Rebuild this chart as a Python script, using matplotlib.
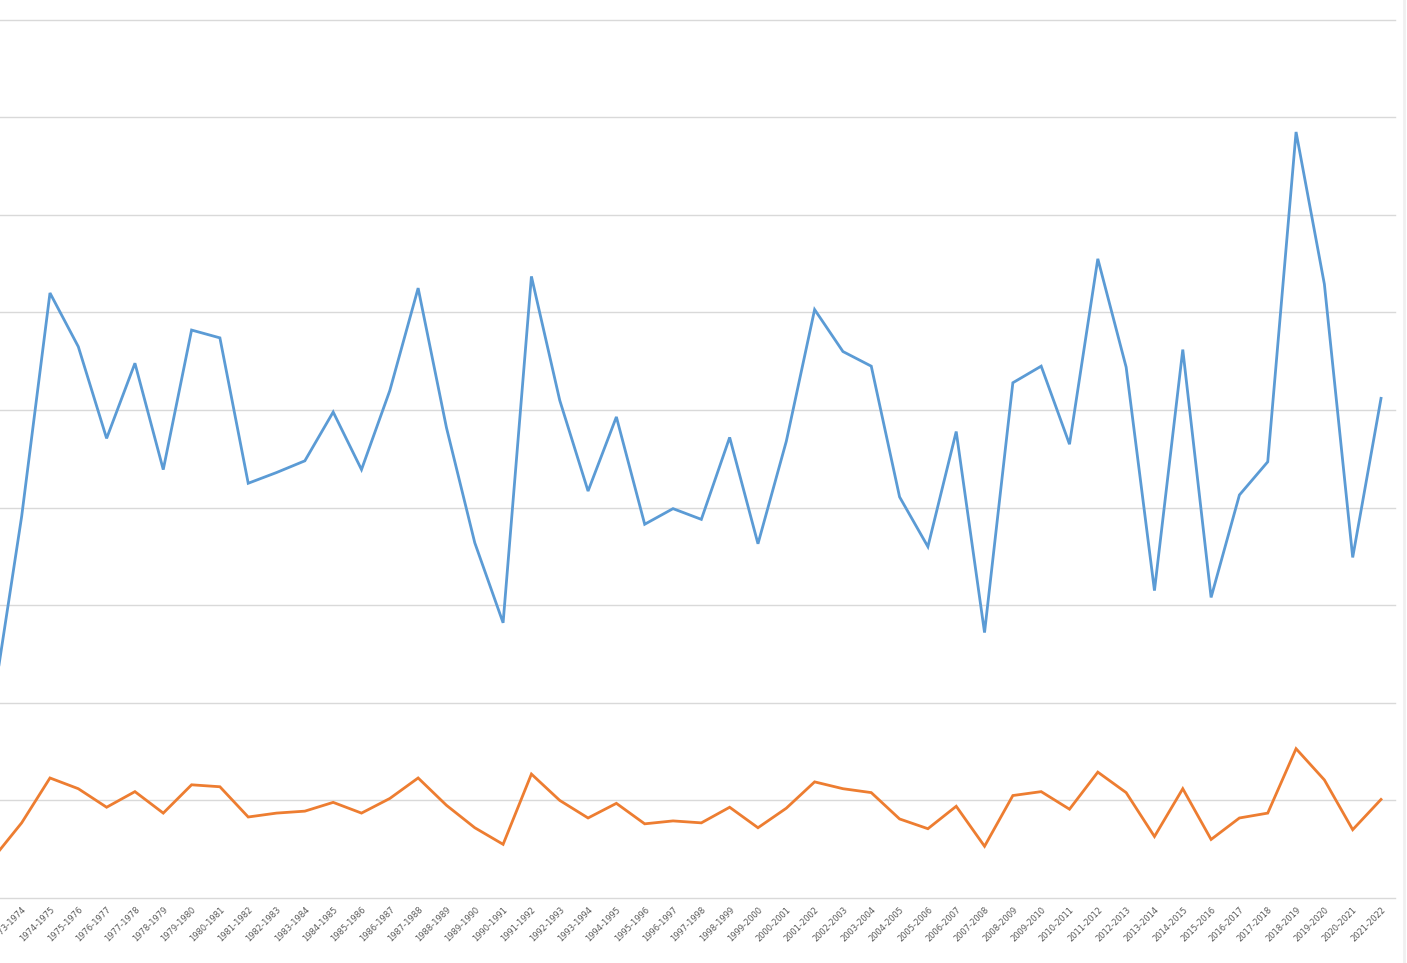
import matplotlib

matplotlib.use("Agg")
import matplotlib.pyplot as plt
from matplotlib.lines import Line2D
import numpy as np

# Season labels (first one sits just off the left edge of the crop)
seasons = [f"{y}-{y + 1}" for y in range(1972, 2022)]

# Values in gridline units (one gridline = 1.0)
blue_values = [
    2.01, 3.91, 6.20, 5.65, 4.71, 5.48, 4.39, 5.82, 5.74, 4.25,
    4.36, 4.48, 4.98, 4.39, 5.20, 6.25, 4.82, 3.64, 2.82, 6.37,
    5.10, 4.17, 4.93, 3.83, 3.99, 3.88, 4.72, 3.63, 4.68, 6.03,
    5.60, 5.45, 4.11, 3.60, 4.78, 2.72, 5.28, 5.45, 4.65, 6.55,
    5.44, 3.15, 5.62, 3.08, 4.13, 4.47, 7.85, 6.29, 3.49, 5.12,
]
orange_values = [
    0.41, 0.77, 1.23, 1.12, 0.93, 1.09, 0.87, 1.16, 1.14, 0.83,
    0.87, 0.89, 0.98, 0.87, 1.02, 1.23, 0.95, 0.72, 0.55, 1.27,
    1.00, 0.82, 0.97, 0.76, 0.79, 0.77, 0.93, 0.72, 0.92, 1.19,
    1.12, 1.08, 0.81, 0.71, 0.94, 0.53, 1.05, 1.09, 0.91, 1.29,
    1.08, 0.63, 1.12, 0.60, 0.82, 0.87, 1.53, 1.21, 0.70, 1.01,
]
grid_values = list(range(0, 10))

fig = plt.figure(figsize=(14.07, 9.63), dpi=100)
fig.patch.set_facecolor("white")

# axes is wider than the figure: the chart was cropped on the left
ax = fig.add_axes([-0.0148, 0.0675, 1.0064, 0.912])

x = np.arange(len(seasons))
ax.plot(x, blue_values, color="#5b9bd5", linewidth=2.0, solid_joinstyle="miter")
ax.plot(x, orange_values, color="#ed7d31", linewidth=2.0, solid_joinstyle="miter")

ax.set_xlim(-0.5, len(seasons) - 0.5)
ax.set_ylim(grid_values[0], grid_values[-1])
ax.set_yticks(grid_values)
ax.set_yticklabels([])
ax.yaxis.grid(True, color="#d9d9d9", linewidth=1.0)
for gl in ax.get_ygridlines():
    gl.set_clip_on(False)
ax.set_axisbelow(True)
for spine in ax.spines.values():
    spine.set_visible(False)

ax.set_xticks(x)
ax.set_xticklabels(seasons, rotation=45, ha="right", va="top",
                   rotation_mode="anchor", fontsize=6, color="#595959")
ax.tick_params(axis="x", length=0, pad=5)
ax.tick_params(axis="y", length=0)

# faint chart-area border at the right edge
fig.add_artist(Line2D([0.998, 0.998], [0, 1], transform=fig.transFigure,
                      color="#f0f0f0", linewidth=2))

plt.savefig("out.png", dpi=100, facecolor="white")
plt.close()
